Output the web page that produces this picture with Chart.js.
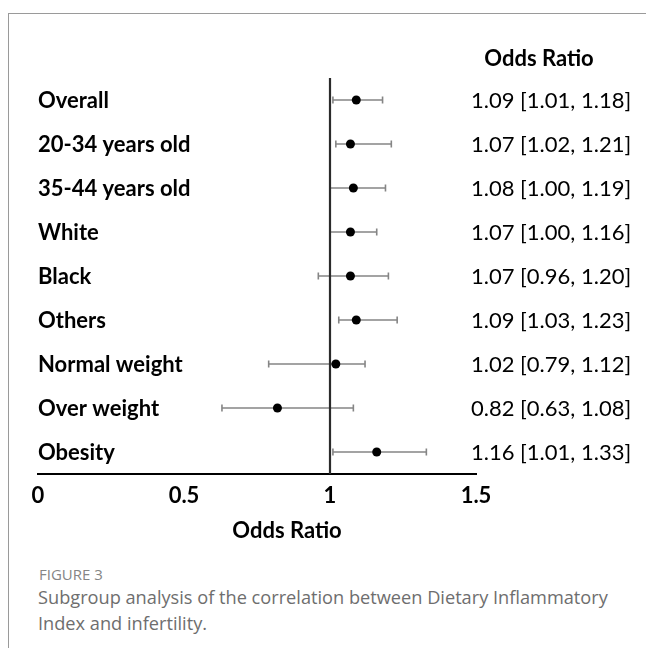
<!DOCTYPE html>
<html>
<head>
<meta charset="utf-8">
<script src="https://cdn.jsdelivr.net/npm/chart.js@4.4.1/dist/chart.umd.min.js"></script>
<style>
  html, body { margin: 0; padding: 0; background: #fff; }
  body { width: 646px; height: 648px; position: relative; overflow: hidden; }
  #frame { position: absolute; left: 8px; top: 13px; right: -4px; bottom: -4px;
           border-left: 1.5px solid #9a9a9a; border-top: 1.5px solid #9a9a9a; }
  #plot { position: absolute; left: 0; top: 0; }
  #fig { position: absolute; left: 39px; top: 564px; font-family: "Open Sans", sans-serif;
         font-size: 15px; line-height: 20px; font-weight: 500; color: #858585; white-space: nowrap; }
  #cap { position: absolute; left: 38px; top: 584px; font-family: "Open Sans", sans-serif;
         font-size: 18.2px; line-height: 26px; color: #6e6e6e; white-space: nowrap; }
</style>
</head>
<body>
<div id="frame"></div>
<canvas id="plot" width="646" height="560"></canvas>
<div id="fig">FIGURE 3</div>
<div id="cap">Subgroup analysis of the correlation between Dietary Inflammatory<br>Index and infertility.</div>
<script>
// Subgroups, odds ratios and 95% confidence limits
const groups = ['Overall', '20-34 years old', '35-44 years old', 'White', 'Black',
                'Others', 'Normal weight', 'Over weight', 'Obesity'];
const oddsRatio = [1.09, 1.07, 1.08, 1.07, 1.07, 1.09, 1.02, 0.82, 1.16];
const lowerCI   = [1.01, 1.02, 1.00, 1.00, 0.96, 1.03, 0.79, 0.63, 1.01];
const upperCI   = [1.18, 1.21, 1.19, 1.16, 1.20, 1.23, 1.12, 1.08, 1.33];
const xTicks    = [0, 0.5, 1, 1.5];
const refValue  = 1;

const LABEL_FONT = 'Lato, "Open Sans", sans-serif';
const fmt = v => v.toFixed(2);

// Whiskers for the confidence intervals, drawn under the points
const errorBars = {
  id: 'errorBars',
  beforeDatasetsDraw(chart) {
    const { ctx, scales: { x, y } } = chart;
    ctx.save();
    ctx.strokeStyle = '#858585';
    ctx.lineWidth = 1.6;
    groups.forEach((g, i) => {
      const py = y.getPixelForValue(i);
      const x0 = x.getPixelForValue(lowerCI[i]);
      const x1 = x.getPixelForValue(upperCI[i]);
      ctx.beginPath();
      ctx.moveTo(x0, py); ctx.lineTo(x1, py);
      ctx.moveTo(x0, py - 3.5); ctx.lineTo(x0, py + 3.5);
      ctx.moveTo(x1, py - 3.5); ctx.lineTo(x1, py + 3.5);
      ctx.stroke();
    });
    ctx.restore();
  }
};

// Subgroup names, the odds-ratio column and the axis title
const textLayer = {
  id: 'textLayer',
  afterDraw(chart) {
    const { ctx, scales: { x, y } } = chart;
    ctx.save();
    ctx.fillStyle = '#000';
    ctx.textBaseline = 'alphabetic';
    groups.forEach((g, i) => {
      const py = y.getPixelForValue(i) + 8;
      ctx.font = 'bold 22px ' + LABEL_FONT;
      ctx.textAlign = 'left';
      ctx.fillText(g, 38, py);
      ctx.font = '22px ' + LABEL_FONT;
      ctx.fillText(fmt(oddsRatio[i]) + ' [' + fmt(lowerCI[i]) + ', ' + fmt(upperCI[i]) + ']', 471, py);
    });
    ctx.font = 'bold 22px ' + LABEL_FONT;
    ctx.textAlign = 'center';
    ctx.fillText('Odds Ratio', 539, 66);
    ctx.fillText('Odds Ratio', 287, 538);
    ctx.restore();
  }
};

new Chart(document.getElementById('plot'), {
  type: 'scatter',
  data: {
    datasets: [
      {
        label: 'reference',
        type: 'line',
        data: [{ x: refValue, y: -0.5 }, { x: refValue, y: groups.length - 0.5 }],
        borderColor: '#2b2b2b',
        borderWidth: 2.2,
        pointRadius: 0,
        order: 2
      },
      {
        label: 'Odds Ratio',
        data: oddsRatio.map((v, i) => ({ x: v, y: i })),
        pointRadius: 4.5,
        pointBackgroundColor: '#000',
        pointBorderColor: '#000',
        pointBorderWidth: 0,
        order: 1
      }
    ]
  },
  options: {
    responsive: false,
    animation: false,
    devicePixelRatio: 1,
    layout: { padding: { left: 38, right: 170, top: 78, bottom: 46 } },
    plugins: { legend: { display: false }, tooltip: { enabled: false } },
    scales: {
      x: {
        type: 'linear',
        min: 0, max: 1.5,
        afterBuildTicks(scale) { scale.ticks = xTicks.map(v => ({ value: v })); },
        afterFit(scale) { scale.height = 40; },
        grid: { display: false, drawTicks: false },
        border: { display: true, color: '#000', width: 2 },
        ticks: {
          color: '#000',
          padding: 9,
          font: { family: LABEL_FONT, size: 22, weight: 'bold' },
          callback: v => String(v)
        }
      },
      y: {
        type: 'linear',
        display: false,
        reverse: true,
        min: -0.5, max: groups.length - 0.5
      }
    }
  },
  plugins: [errorBars, textLayer]
});
</script>
</body>
</html>
